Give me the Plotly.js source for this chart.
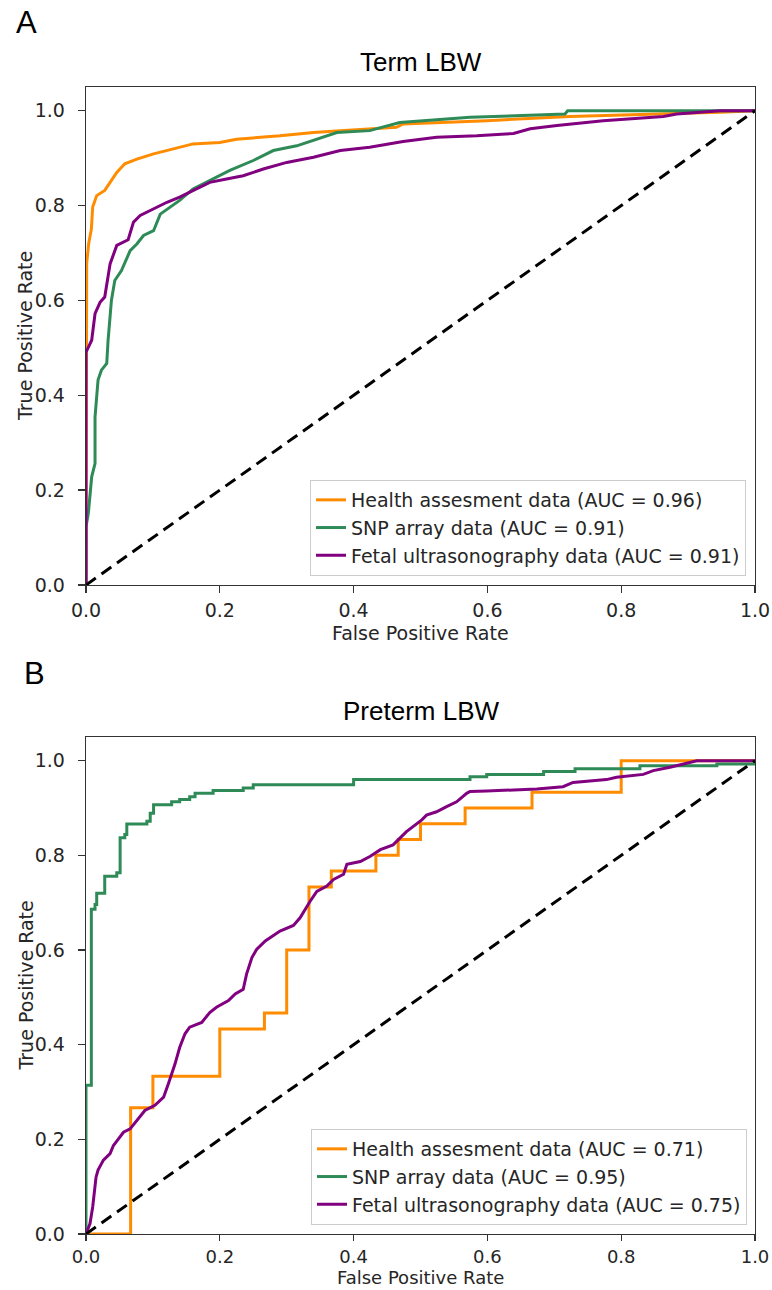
<!DOCTYPE html>
<html>
<head>
<meta charset="utf-8">
<script src="https://cdn.plot.ly/plotly-3.0.1.min.js"></script>
<style>html,body{margin:0;padding:0;background:#fff;}#chart{width:772px;height:1290px;}</style>
</head>
<body>
<div id="chart"></div>
<script>
// ---------- Panel A: Term LBW ----------
const termHealthFPR = [0,0,0.001,0.001,0.004,0.006,0.008,0.010,0.016,0.028,0.038,0.046,0.058,0.076,0.101,0.131,0.160,0.200,0.225,0.290,0.340,0.380,0.425,0.464,0.474,0.599,0.723,0.868,0.948,1];
const termHealthTPR = [0,0.5,0.6,0.678,0.72,0.733,0.75,0.797,0.821,0.832,0.853,0.870,0.888,0.898,0.909,0.919,0.930,0.933,0.940,0.947,0.954,0.958,0.961,0.965,0.972,0.979,0.988,0.993,0.997,1];

const termSnpFPR = [0,0,0.0035,0.006,0.0085,0.011,0.0135,0.0135,0.016,0.018,0.023,0.031,0.033,0.038,0.043,0.053,0.066,0.076,0.086,0.101,0.111,0.126,0.140,0.160,0.190,0.215,0.250,0.280,0.315,0.345,0.375,0.424,0.469,0.574,0.716,0.72,1];
const termSnpTPR = [0,0.123,0.151,0.2,0.228,0.242,0.256,0.354,0.389,0.432,0.453,0.467,0.516,0.6,0.642,0.663,0.705,0.719,0.737,0.747,0.782,0.797,0.811,0.835,0.856,0.874,0.895,0.916,0.926,0.940,0.954,0.958,0.975,0.986,0.993,1.0,1];

const termFetalFPR = [0,0,0,0.0085,0.0135,0.021,0.028,0.036,0.046,0.063,0.071,0.081,0.101,0.121,0.140,0.160,0.185,0.210,0.235,0.265,0.300,0.340,0.380,0.424,0.474,0.524,0.584,0.639,0.664,0.704,0.773,0.863,0.883,0.948,1];
const termFetalTPR = [0,0.34,0.491,0.516,0.572,0.596,0.607,0.677,0.716,0.728,0.765,0.779,0.793,0.807,0.818,0.832,0.849,0.856,0.863,0.877,0.891,0.902,0.916,0.923,0.935,0.944,0.947,0.952,0.962,0.969,0.979,0.988,0.993,1.0,1];

// ---------- Panel B: Preterm LBW ----------
const pretermHealthFPR = [0,0.0667,0.1,0.2,0.2667,0.3,0.3333,0.3667,0.4333,0.4667,0.5,0.5667,0.6667,0.8,1.0];
const pretermHealthTPR = [0,0.2667,0.3333,0.4333,0.4667,0.6,0.7333,0.7667,0.8,0.8333,0.8667,0.9,0.9333,1.0,1.0];

const pretermSnpFPR = [0,0,0.008,0.0135,0.016,0.028,0.046,0.051,0.058,0.061,0.091,0.096,0.101,0.128,0.14,0.155,0.163,0.19,0.235,0.25,0.40,0.574,0.599,0.684,0.731,0.828,0.943,1.0];
const pretermSnpTPR = [0,0.314,0.686,0.696,0.72,0.756,0.763,0.837,0.844,0.866,0.872,0.889,0.907,0.913,0.918,0.924,0.931,0.937,0.942,0.949,0.96,0.966,0.971,0.977,0.983,0.989,0.993,1.0];

const pretermFetalFPR = [0,0.006,0.01,0.012,0.015,0.018,0.026,0.036,0.041,0.048,0.056,0.066,0.076,0.088,0.103,0.116,0.123,0.133,0.140,0.148,0.155,0.173,0.185,0.195,0.213,0.223,0.235,0.240,0.248,0.255,0.268,0.29,0.31,0.32,0.335,0.345,0.36,0.37,0.385,0.39,0.41,0.425,0.44,0.459,0.479,0.502,0.509,0.524,0.539,0.554,0.569,0.574,0.599,0.674,0.713,0.728,0.778,0.793,0.833,0.848,0.873,0.913,1.0];
const pretermFetalTPR = [0,0.022,0.057,0.078,0.12,0.135,0.156,0.17,0.187,0.2,0.215,0.222,0.24,0.261,0.272,0.289,0.317,0.359,0.394,0.423,0.437,0.447,0.468,0.479,0.493,0.507,0.517,0.549,0.584,0.601,0.619,0.64,0.652,0.668,0.703,0.724,0.735,0.749,0.76,0.781,0.787,0.798,0.812,0.822,0.85,0.875,0.885,0.892,0.903,0.913,0.931,0.935,0.936,0.94,0.945,0.954,0.96,0.965,0.971,0.979,0.986,1.0,1.0];

const diagonal = [0,1];

const namesTerm = ['Health assesment data (AUC = 0.96)','SNP array data (AUC = 0.91)','Fetal ultrasonography data (AUC = 0.91)'];
const namesPreterm = ['Health assesment data (AUC = 0.71)','SNP array data (AUC = 0.95)','Fetal ultrasonography data (AUC = 0.75)'];
const tickVals = [0,0.2,0.4,0.6,0.8,1.0];

const colors = ['#FF8C00','#2E8B57','#800080'];
const LW = 3;
const W = 772, H = 1290;
const px = v => v / W, py = v => 1 - v / H;

const traces = [
  {x: termHealthFPR, y: termHealthTPR, name: namesTerm[0], legendgroup:'a1', line:{color:colors[0], width:LW}, xaxis:'x', yaxis:'y', legend:'legend'},
  {x: termSnpFPR, y: termSnpTPR, name: namesTerm[1], legendgroup:'a2', line:{color:colors[1], width:LW}, xaxis:'x', yaxis:'y', legend:'legend'},
  {x: termFetalFPR, y: termFetalTPR, name: namesTerm[2], legendgroup:'a3', line:{color:colors[2], width:LW}, xaxis:'x', yaxis:'y', legend:'legend'},
  {x: diagonal, y: diagonal, showlegend:false, line:{color:'#000', width:3, dash:'12px,7px'}, xaxis:'x', yaxis:'y'},
  {x: pretermHealthFPR, y: pretermHealthTPR, name: namesPreterm[0], legendgroup:'b1', line:{color:colors[0], width:LW, shape:'hv'}, xaxis:'x2', yaxis:'y2', legend:'legend2'},
  {x: pretermSnpFPR, y: pretermSnpTPR, name: namesPreterm[1], legendgroup:'b2', line:{color:colors[1], width:LW, shape:'hv'}, xaxis:'x2', yaxis:'y2', legend:'legend2'},
  {x: pretermFetalFPR, y: pretermFetalTPR, name: namesPreterm[2], legendgroup:'b3', line:{color:colors[2], width:LW}, xaxis:'x2', yaxis:'y2', legend:'legend2'},
  {x: diagonal, y: diagonal, showlegend:false, line:{color:'#000', width:3, dash:'12px,7px'}, xaxis:'x2', yaxis:'y2'}
].map(t => Object.assign({type:'scatter', mode:'lines', hoverinfo:'skip'}, t));

const FS = 19;
const tickFont = {family:'DejaVu Sans', size:FS, color:'#262626'};
const axisCommon = {
  showgrid:false, zeroline:false, showline:true, mirror:true,
  linecolor:'#333', linewidth:1.3, ticks:'outside', ticklen:7, tickwidth:1.3, tickcolor:'#333',
  tickfont: tickFont, tickvals: tickVals, tickformat:'.1f', fixedrange:true
};
const xdom = [px(86), px(755)];

const legendCommon = {
  font:{family:'DejaVu Sans', size:FS, color:'#262626'},
  bgcolor:'rgba(255,255,255,0.9)', bordercolor:'#cccccc', borderwidth:1,
  tracegroupgap:0, traceorder:'grouped',
  xanchor:'right', yanchor:'bottom', xref:'paper', yref:'paper'
};

const ann = (text, x, y, size, fam, extra) => Object.assign({
  text, x, y, xref:'paper', yref:'paper', showarrow:false,
  xanchor:'center', yanchor:'middle', font:{family:fam, size, color:'#000'}
}, extra || {});
const labFont = {family:'DejaVu Sans', size:FS, color:'#262626'};
const labFontSm = {family:'DejaVu Sans', size:18, color:'#262626'};

const layout = {
  width: W, height: H,
  margin:{l:0, r:0, t:0, b:0},
  paper_bgcolor:'#fff', plot_bgcolor:'#fff',
  showlegend:true,
  xaxis: Object.assign({}, axisCommon, {domain: xdom, range:[0,1], anchor:'y', ticklabelstandoff:1}),
  yaxis: Object.assign({}, axisCommon, {domain:[py(585), py(87)], range:[0,1.05], anchor:'x', ticklabelstandoff:9}),
  xaxis2: Object.assign({}, axisCommon, {domain: xdom, range:[0,1], anchor:'y2', ticklabelstandoff:0, ticklen:6,
    tickfont:{family:'DejaVu Sans', size:18, color:'#262626'}}),
  yaxis2: Object.assign({}, axisCommon, {domain:[py(1234), py(737)], range:[0,1.05], anchor:'x2', ticklabelstandoff:9}),
  legend: Object.assign({}, legendCommon, {x: px(746), y: py(576)}),
  legend2: Object.assign({}, legendCommon, {x: px(747), y: py(1225)}),
  annotations: [
    ann('A', px(14), py(23), 31, 'Arial, Liberation Sans', {xanchor:'left'}),
    ann('B', px(22), py(674), 31, 'Arial, Liberation Sans', {xanchor:'left'}),
    ann('Term LBW', px(420.5), py(62), 26, 'Arial, Liberation Sans'),
    ann('Preterm LBW', px(420.5), py(711), 26, 'Arial, Liberation Sans'),
    ann('False Positive Rate', px(420.5), py(633), FS, 'DejaVu Sans', {font:labFont}),
    ann('False Positive Rate', px(420.5), 0, 18, 'DejaVu Sans', {font:labFontSm, yanchor:'bottom'}),
    ann('True Positive Rate', px(25), py(336), FS, 'DejaVu Sans', {textangle:-90, font:labFont}),
    ann('True Positive Rate', px(25), py(985.5), FS, 'DejaVu Sans', {textangle:-90, font:labFont})
  ]
};

Plotly.newPlot('chart', traces, layout, {displayModeBar:false, staticPlot:true});
</script>
</body>
</html>
